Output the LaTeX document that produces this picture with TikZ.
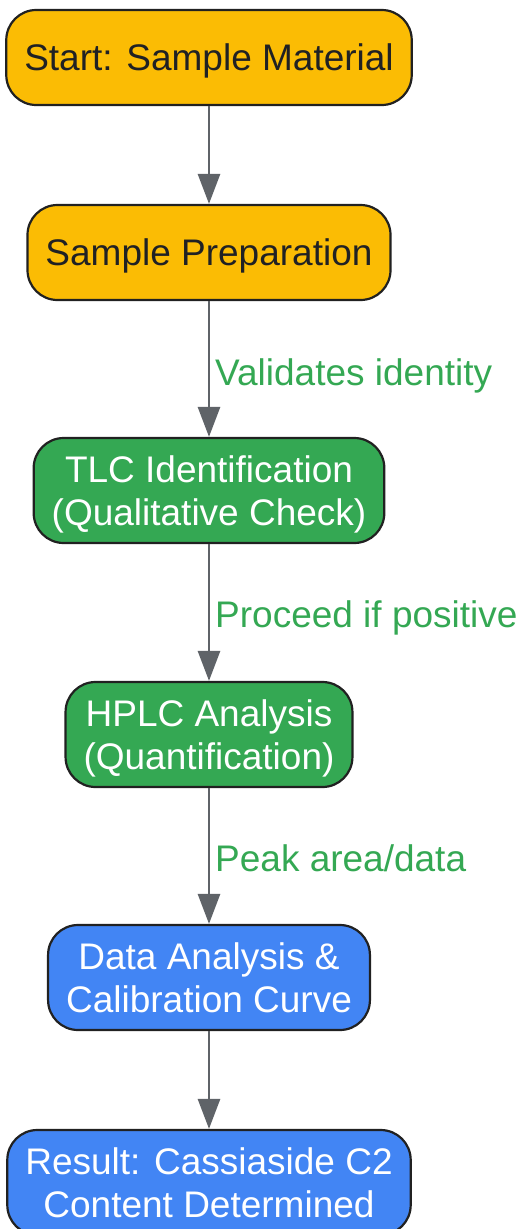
\documentclass[tikz,border=0pt]{standalone}
\usepackage{fontspec}
\setmainfont{Liberation Sans}
\usetikzlibrary{arrows.meta}
\definecolor{cOrange}{HTML}{FBBC04}
\definecolor{cGreen}{HTML}{34A853}
\definecolor{cBlue}{HTML}{4285F4}
\definecolor{cEdge}{HTML}{5F6368}
\definecolor{cBorder}{HTML}{212121}
\definecolor{cText}{HTML}{202124}
\begin{document}
\begin{tikzpicture}[x=1pt,y=-1pt,
  box/.style={draw=cBorder, line width=2.2pt, rounded corners=30pt, align=center,
    inner xsep=18pt, inner ysep=0pt, text depth=0pt, font=\fontsize{37}{43}\selectfont},
  onebox/.style={box, minimum height=95pt},
  twobox/.style={box, minimum height=105pt},
  orangebox/.style={fill=cOrange, text=cText},
  greenbox/.style={fill=cGreen, text=white},
  bluebox/.style={fill=cBlue, text=white},
  flow/.style={draw=cEdge, line width=2.8pt, -{Triangle[width=22pt,length=30pt]}},
  elabel/.style={text=cGreen, anchor=west, inner sep=0pt, text depth=0pt, font=\fontsize{37}{43}\selectfont}
]
\useasboundingbox (0,0) rectangle (521,1229);
\begin{scope}
\clip (0,0) rectangle (521,1229);
\node[onebox, orangebox] (start) at (209,57.5) {Start: Sample Material};
\node[onebox, orangebox] (prep) at (209,252.5) {Sample Preparation};
\node[twobox, greenbox] (tlc) at (209,490.5) {TLC Identification\\(Qualitative Check)};
\node[twobox, greenbox] (hplc) at (209,734.5) {HPLC Analysis\\(Quantification)};
\node[twobox, bluebox] (data) at (209,977.5) {Data Analysis \&\\Calibration Curve};
\node[twobox, bluebox] (result) at (209,1182.5) {Result: Cassiaside C2\\Content Determined};
\draw[flow] (start) -- (prep);
\draw[flow] (prep) -- (tlc);
\draw[flow] (tlc) -- (hplc);
\draw[flow] (hplc) -- (data);
\draw[flow] (data) -- (result);
\node[elabel] (l1) at (215,372) {Validates identity};
\node[elabel] (l2) at (215,614) {Proceed if positive};
\node[elabel] (l3) at (215,858) {Peak area/data};
\end{scope}
\end{tikzpicture}
\end{document}
